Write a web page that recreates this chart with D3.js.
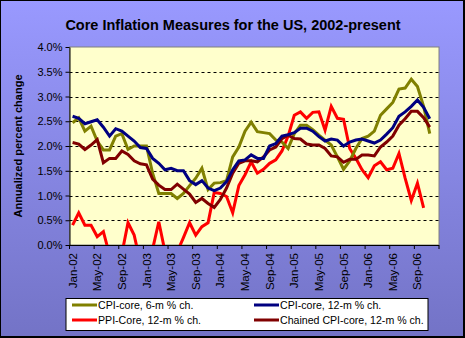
<!DOCTYPE html>
<html><head><meta charset="utf-8">
<script src="https://cdn.jsdelivr.net/npm/d3@7"></script>
<style>body{margin:0;padding:0;overflow:hidden}svg{display:block}text{font-family:Arial,"Liberation Sans",sans-serif}</style>
</head><body>
<script>
// ---- data ----
const monthNames = ["Jan","Feb","Mar","Apr","May","Jun","Jul","Aug","Sep","Oct","Nov","Dec"];
const years = ["02","03","04","05","06"];
const categories = years.flatMap(yy => monthNames.map(m => m + "-" + yy));
const tickLabels = ["Jan-02","May-02","Sep-02","Jan-03","May-03","Sep-03","Jan-04","May-04","Sep-04","Jan-05","May-05","Sep-05","Jan-06","May-06","Sep-06"];
const yTicks = [0,0.5,1.0,1.5,2.0,2.5,3.0,3.5,4.0];

const cpiCore6m = [2.47,2.57,2.3,2.4,2.1,1.92,1.92,2.2,2.25,1.93,2.0,2.0,2.0,1.45,1.04,1.04,1.04,0.94,1.04,1.2,1.35,1.55,1.12,1.25,1.26,1.3,1.78,1.98,2.3,2.48,2.29,2.27,2.25,2.12,2.08,1.95,2.25,2.42,2.42,2.33,2.22,2.12,2.02,1.78,1.53,1.7,1.95,2.15,2.2,2.3,2.62,2.75,2.88,3.15,3.17,3.35,3.2,2.8,2.25];
const cpiCore12m = [2.6,2.56,2.45,2.49,2.53,2.38,2.2,2.35,2.3,2.2,2.1,1.97,1.95,1.75,1.65,1.52,1.55,1.5,1.5,1.3,1.22,1.3,1.15,1.1,1.15,1.28,1.52,1.7,1.72,1.82,1.75,1.75,2.0,2.05,2.2,2.23,2.27,2.36,2.36,2.3,2.19,2.1,2.14,2.12,2.0,2.08,2.12,2.14,2.1,2.06,2.12,2.24,2.37,2.6,2.69,2.8,2.93,2.78,2.55];
const ppiCore12m = [0.4,0.65,0.4,0.4,0.17,0.27,-0.2,-0.3,-0.18,0.45,0.2,-0.35,-0.3,-0.08,0.47,-0.13,-0.2,-0.14,0.15,0.45,0.2,0.37,0.45,1.06,1.04,0.98,0.65,1.2,1.42,1.68,1.45,1.53,1.65,1.72,1.9,2.2,2.62,2.69,2.56,2.68,2.69,2.32,2.8,2.56,2.54,1.95,1.75,1.52,1.36,1.6,1.68,1.52,1.55,1.85,1.35,0.9,1.25,0.75];
const chainedCpiCore12m = [2.07,2.04,1.93,2.02,2.13,1.66,1.75,1.75,1.9,1.83,1.7,1.64,1.62,1.33,1.21,1.12,1.12,1.23,1.13,1.03,0.86,0.94,0.84,0.76,0.92,1.15,1.45,1.65,1.7,1.7,1.68,1.78,1.92,1.98,2.15,2.22,2.15,2.14,2.04,2.02,2.02,1.95,1.8,1.78,1.67,1.73,1.73,1.82,1.82,1.8,1.98,2.08,2.2,2.42,2.55,2.7,2.7,2.57,2.38];

const seriesNames = ["CPI-core, 6-m % ch.","CPI-core, 12-m % ch.","PPI-Core, 12-m % ch.","Chained CPI-core, 12-m % ch."];
const seriesColors = ["#808000","#000080","#FF0000","#800000"];
const seriesValues = [cpiCore6m, cpiCore12m, ppiCore12m, chainedCpiCore12m];

// ---- drawing ----
(function(){
const W = 465, H = 338;
const svg = d3.select("body").append("svg").attr("width", W).attr("height", H);
const defs = svg.append("defs");
const grad = defs.append("linearGradient").attr("id","bg").attr("x1",0).attr("y1",0).attr("x2",0).attr("y2",1);
grad.append("stop").attr("offset","0%").attr("stop-color","#9999FF");
grad.append("stop").attr("offset","100%").attr("stop-color","#7373C6");
svg.append("rect").attr("x",0).attr("y",0).attr("width",W).attr("height",H).attr("fill","url(#bg)");
svg.append("rect").attr("x",0.5).attr("y",0.5).attr("width",W-1).attr("height",H-1).attr("fill","none").attr("stroke","#000").attr("stroke-width",1);
svg.append("rect").attr("x",W-2).attr("y",0).attr("width",2).attr("height",H).attr("fill","#000");
svg.append("rect").attr("x",0).attr("y",H-2).attr("width",W).attr("height",2).attr("fill","#000");

const pl = 69.5, pr = 439, pt = 47, pb = 245;
const x = d3.scaleBand().domain(categories).range([pl, pr]);
const y = d3.scaleLinear().domain([0, 4]).range([pb, pt]);
const bw = x.bandwidth();

// plot area
svg.append("rect").attr("x",pl).attr("y",pt).attr("width",pr-pl).attr("height",pb-pt)
  .attr("fill","#FFFFCC").attr("stroke","#808080").attr("stroke-width",1);

// gridlines
svg.append("g").selectAll("line").data(yTicks.filter(t => t > 0 && t < 4)).join("line")
  .attr("x1",pl).attr("x2",pr).attr("y1",d => Math.round(y(d))+0.5).attr("y2",d => Math.round(y(d))+0.5)
  .attr("stroke","#000").attr("stroke-width",1).attr("stroke-dasharray","3,3");

// clip
defs.append("clipPath").attr("id","clip").append("rect").attr("x",pl).attr("y",pt).attr("width",pr-pl).attr("height",pb-pt);

const line = d3.line().x((d,i) => x(categories[i]) + bw/2).y(d => y(d));
const lg = svg.append("g").attr("clip-path","url(#clip)");
[2,0,3,1].forEach(k => {
  lg.append("path").datum(seriesValues[k]).attr("d", line)
    .attr("fill","none").attr("stroke",seriesColors[k]).attr("stroke-width",3).attr("stroke-linejoin","miter");
});

// y axis
const yAxis = d3.axisLeft(y).tickValues(yTicks).tickFormat(d => d3.format(".1f")(d) + "%").tickSize(4).tickSizeOuter(0);
const yg = svg.append("g").attr("transform",`translate(${pl},0)`).call(yAxis);
yg.attr("font-family",null).attr("font-size",null);
yg.select(".domain").attr("stroke","#000");
yg.selectAll(".tick line").attr("stroke","#000");
yg.selectAll(".tick text").attr("font-size","11px").attr("fill","#000").attr("x",-7);

// x axis
const xTickPos = d3.range(0, 61, 4).map(i => pl + i*bw);
const xg = svg.append("g");
xg.append("line").attr("x1",pl).attr("x2",pr).attr("y1",pb+0.5).attr("y2",pb+0.5).attr("stroke","#000");
xg.selectAll("line.t").data(xTickPos).join("line").attr("class","t")
  .attr("x1",d=>d).attr("x2",d=>d).attr("y1",pb).attr("y2",pb+4).attr("stroke","#000");
xg.selectAll("text").data(tickLabels).join("text")
  .attr("transform", d => `translate(${x(d) + bw/2},${pb+8}) rotate(-90)`)
  .attr("text-anchor","end").attr("dy","0.35em").attr("font-size","11.5px").attr("fill","#000").text(d => d);

// title
svg.append("text").attr("x",233).attr("y",29.5).attr("text-anchor","middle")
  .attr("font-size","14.5px").attr("font-weight","bold").attr("fill","#000")
  .text("Core Inflation Measures for the US, 2002-present");
// y title
svg.append("text").attr("transform","translate(22,146) rotate(-90)").attr("text-anchor","middle")
  .attr("font-size","11px").attr("font-weight","bold").attr("fill","#000")
  .text("Annualized percent change");

// legend
const leg = svg.append("g");
leg.append("rect").attr("x",66).attr("y",298.5).attr("width",362).attr("height",32).attr("fill","#fff").attr("stroke","#000");
const legPos = [[72,305],[254,305],[72,320],[254,320]];
seriesNames.forEach((n,k) => {
  const [lx,ly] = legPos[k];
  leg.append("line").attr("x1",lx).attr("x2",lx+25).attr("y1",ly).attr("y2",ly).attr("stroke",seriesColors[k]).attr("stroke-width",3);
  leg.append("text").attr("x",lx+26).attr("y",ly).attr("dy","0.35em").attr("font-size","10.6px").attr("fill","#000").text(n);
});
})();
</script>
</body></html>
